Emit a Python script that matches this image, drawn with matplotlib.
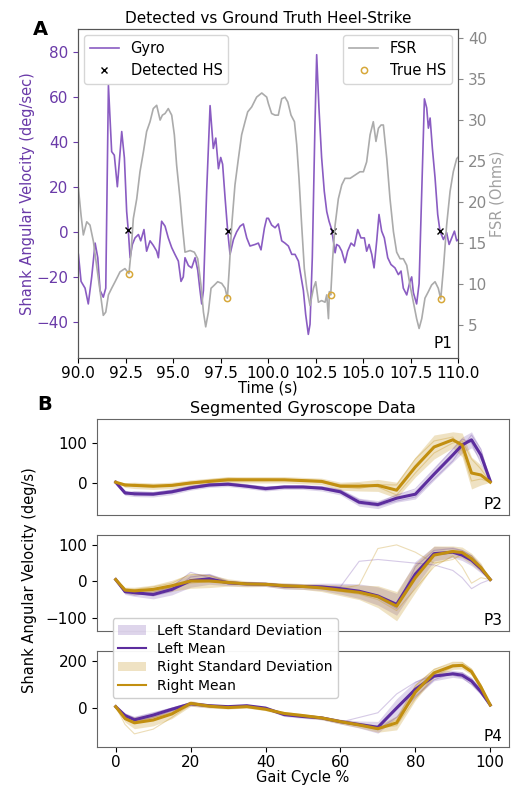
import matplotlib
matplotlib.use('Agg')
import matplotlib.pyplot as plt
from matplotlib.patches import Patch
from matplotlib.lines import Line2D

# ---------------- Panel A data ----------------
gyro_t = [90.02, 90.16, 90.37, 90.54, 90.72, 90.9, 91.04, 91.16, 91.33, 91.46, 91.6, 91.77, 91.91, 92.07,
          92.3, 92.44, 92.56, 92.65, 92.74, 92.86, 93.0, 93.18, 93.3, 93.47, 93.61, 93.79, 93.96, 94.14,
          94.23, 94.4, 94.58, 94.75, 94.93, 95.1, 95.28, 95.42, 95.54, 95.63, 95.81, 95.98, 96.16, 96.3,
          96.42, 96.51, 96.6, 96.77, 96.95, 97.12, 97.25, 97.39, 97.51, 97.61, 97.74, 97.88, 98.0, 98.18,
          98.35, 98.53, 98.7, 98.88, 99.05, 99.32, 99.49, 99.63, 99.81, 99.93, 100.02, 100.19, 100.37,
          100.54, 100.72, 100.89, 101.07, 101.25, 101.42, 101.6, 101.74, 101.86, 101.98, 102.12, 102.21,
          102.33, 102.47, 102.56, 102.68, 102.82, 102.96, 103.09, 103.21, 103.35, 103.44, 103.53, 103.61,
          103.74, 103.88, 104.05, 104.19, 104.37, 104.54, 104.72, 104.89, 105.07, 105.19, 105.32, 105.46,
          105.58, 105.72, 105.84, 105.98, 106.12, 106.3, 106.47, 106.68, 106.86, 107.0, 107.12, 107.3,
          107.47, 107.56, 107.65, 107.82, 107.95, 108.09, 108.23, 108.35, 108.44, 108.53, 108.65, 108.79,
          108.93, 109.05, 109.23, 109.4, 109.53, 109.67, 109.81, 109.93, 110.1]
gyro_v = [-10, -22, -25, -32, -20, -5, -11.5, -26, -29, -25, 65, 35.6, 34, 20,
          44.5, 32.8, 9, 0, -11.5, -5.6, -2.7, -1.2, -4, 1, -8.6, -4, -6, -8.6,
          -11.5, 4.7, 2.5, -2.7, -7, -10, -13, -22, -20, -11.5, -15, -16, -11.5, -17,
          -26, -32, -26, 18, 56, 37, 41.6, 28, 33, 30, 15, 0, -10, -3.4,
          0, 2.5, 3.5, -2.7, -6.3, -5.6, -5, -8, 1.7, 6, 6, 3, 1.8,
          3.5, -4, -5, -6.3, -10, -10, -13, -20, -26, -36.6, -45.5, -41,
          -11.5, 47.5, 78.6, 55, 33, 18, 9, 4.7, 1, -4, -9.3, -5.6,
          -6.3, -8.6, -13.7, -8.6, -5, -6.3, 1, -2.7, -2.7, -8.6, -5.6, -10,
          -16, -4, 7.7, 0.3, -2.7, -11.5, -14.5, -16, -19, -17.4, -25, -28,
          -22, -20, -27, -32, -23, 18, 59, 55, 46, 50.5, 37, 24,
          7.7, 0.3, -3.4, -0.4, -5.6, -2.7, 0.3, -4, -2.7]

fsr_t = [90.02, 90.16, 90.28, 90.46, 90.63, 90.81, 90.93, 91.07, 91.21, 91.33, 91.46, 91.6, 91.77, 91.95,
         92.21, 92.47, 92.68, 92.79, 92.91, 93.09, 93.26, 93.44, 93.61, 93.79, 93.96, 94.14, 94.32, 94.44,
         94.58, 94.75, 94.93, 95.07, 95.19, 95.37, 95.49, 95.63, 95.9, 96.12, 96.3, 96.47, 96.6, 96.72,
         96.86, 97.0, 97.18, 97.35, 97.56, 97.74, 97.86, 97.96, 98.09, 98.26, 98.44, 98.61, 98.79, 98.93,
         99.14, 99.4, 99.67, 99.93, 100.02, 100.19, 100.37, 100.54, 100.72, 100.89, 101.04, 101.21, 101.39,
         101.51, 101.63, 101.77, 101.91, 102.04, 102.21, 102.39, 102.51, 102.65, 102.82, 103.0, 103.09,
         103.18, 103.23, 103.3, 103.4, 103.53, 103.7, 103.88, 104.05, 104.32, 104.58, 104.84, 105.02,
         105.19, 105.37, 105.54, 105.68, 105.81, 105.95, 106.07, 106.25, 106.42, 106.6, 106.77, 106.95,
         107.12, 107.3, 107.47, 107.65, 107.82, 107.95, 108.09, 108.26, 108.44, 108.61, 108.79, 108.96,
         109.09, 109.23, 109.4, 109.58, 109.75, 109.93, 110.1]
fsr_v = [21.7, 18.4, 16, 17.6, 17.2, 15.2, 13.1, 10.7, 8.3, 6.2, 6.6, 8.7, 9.5, 10.3,
         11.5, 11.9, 11.3, 13.9, 18, 20.4, 23.7, 26.1, 28.6, 29.8, 31.4, 31.8, 30, 30.6,
         30.8, 31.4, 30.6, 28.2, 24.5, 20.4, 17.2, 13.9, 14.1, 13.9, 13.1, 9.9, 6.6, 4.8,
         6.6, 9.5, 9.9, 10.3, 10.1, 9.5, 8.3, 11.9, 17.2, 22.1, 25.3, 28.2, 29.8, 31,
         31.6, 32.8, 33.3, 32.8, 32, 30.8, 30.6, 30.6, 32.6, 32.8, 32.2, 30.6, 29.8,
         27, 22.9, 17.2, 11.9, 9.5, 7.4, 9.5, 10.3, 7.8, 8, 7.8, 8.7,
         5.8, 9.1, 8.7, 13.1, 17.2, 20.4, 22.1, 22.9, 22.9, 23.3, 23.7, 23.7,
         24.9, 28.2, 29.8, 27.4, 29, 29.4, 29.4, 25.3, 20.4, 16.4, 13.9, 13.1,
         13.1, 12.3, 9.9, 7.8, 5.8, 4.6, 5.8, 8.3, 9.1, 9.9, 10.3, 9.5,
         8.2, 11.9, 17.2, 21.3, 23.7, 25.3, 25.7]

detected_t = [92.61, 97.88, 103.44, 109.05]
detected_v = [1, 0.5, 0.5, 0.5]
true_t = [92.68, 97.86, 103.3, 109.09]
true_v = [11.3, 8.3, 8.7, 8.2]

# ---------------- Panel B data ----------------
gait = [0, 2.5, 5, 10, 15, 20, 25, 30, 35, 40, 45, 50, 55, 60, 65, 70, 75, 80, 85, 90, 92.5, 95, 97.5, 100]

p2_left_mean = [2, -25, -27, -28, -22, -12, -5, -3, -8, -14, -10, -10, -13, -22, -48, -54, -38, -28, 22, 70, 95, 108, 70, 5]
p2_left_std = [0, 6, 7, 7, 7, 6, 6, 6, 6, 6, 6, 6, 7, 8, 10, 10, 10, 12, 15, 18, 20, 20, 15, 0]
p2_right_mean = [2, -5, -6, -8, -6, 0, 4, 8, 8, 8, 8, 6, 4, -8, -8, -6, -18, 40, 90, 108, 95, 25, 20, 2]
p2_right_std = [0, 6, 8, 8, 8, 8, 8, 8, 8, 8, 8, 8, 8, 10, 12, 15, 20, 25, 30, 20, 30, 40, 25, 0]
p2_left_strides = [[2, -20, -30, -30, -25, -15, -8, -5, -10, -18, -12, -12, -15, -25, -52, -58, -45, -35, 10, 55, 90, 120, 85, 5],
                   [2, -28, -22, -24, -18, -8, -2, 0, -5, -10, -8, -8, -10, -18, -42, -50, -30, -15, 35, 85, 110, 100, 50, 5]]
p2_right_strides = [[2, -2, -8, -10, -4, 2, 8, 12, 10, 10, 8, 6, 2, -10, -14, -4, -5, 60, 105, 115, 80, 5, 10, 2],
                    [2, -8, -3, -6, -8, -2, 2, 5, 6, 6, 8, 8, 6, -4, -2, -10, -30, 25, 75, 100, 105, 60, 35, 2]]

p3_left_mean = [5, -28, -31, -36, -22, 2, 7, -4, -7, -8, -13, -14, -15, -20, -27, -40, -63, 20, 76, 80, 72, 58, 35, 5]
p3_left_std = [0, 8, 10, 12, 15, 18, 15, 8, 6, 6, 8, 8, 10, 15, 20, 25, 30, 35, 20, 15, 15, 15, 12, 0]
p3_right_mean = [5, -24, -26, -22, -12, 1, 1, -3, -7, -8, -12, -14, -18, -24, -30, -42, -68, 10, 72, 82, 79, 62, 38, 5]
p3_right_std = [0, 8, 10, 12, 15, 20, 18, 10, 8, 6, 8, 8, 10, 15, 20, 30, 40, 40, 25, 15, 15, 15, 12, 0]
p3_left_strides = [[5, -25, -30, -40, -28, 12, 18, -2, -6, -8, -12, -13, -14, -15, 55, 60, 55, 50, 45, 30, 10, -20, -5, 5],
                   [5, -32, -38, -30, -15, 25, 10, -6, -8, -8, -14, -15, -16, -22, -30, -45, -75, 40, 85, 90, 85, 70, 40, 5]]
p3_right_strides = [[5, -20, -22, -15, -5, 20, 15, 0, -6, -8, -10, -14, -18, -20, -10, 90, 100, 80, 50, 60, 75, 70, 40, 5],
                    [5, -28, -30, -28, -18, -5, 0, -6, -8, -8, -12, -14, -20, -28, -35, -50, -80, -20, 40, 70, 40, -5, 10, 5]]

p4_left_mean = [6, -32, -50, -30, -5, 18, 10, 6, 10, 0, -28, -36, -42, -58, -70, -82, 0, 80, 136, 146, 140, 115, 70, 13]
p4_left_std = [0, 10, 12, 12, 10, 10, 8, 6, 6, 6, 8, 8, 8, 10, 15, 25, 40, 35, 20, 15, 15, 15, 12, 0]
p4_right_mean = [6, -45, -63, -51, -25, 20, 8, 2, 6, -5, -23, -32, -42, -58, -72, -88, -63, 68, 150, 180, 182, 155, 90, 13]
p4_right_std = [0, 15, 25, 25, 20, 12, 8, 6, 6, 6, 8, 8, 8, 10, 12, 15, 30, 35, 20, 15, 15, 15, 12, 0]
p4_left_strides = [[6, -25, -40, -20, 0, 22, 12, 6, 10, -5, -30, -38, -45, -60, -40, -20, 60, 110, 140, 140, 130, 100, 60, 13],
                   [6, -38, -60, -40, -12, 15, 8, 6, 8, 0, -25, -35, -40, -55, -72, -90, -40, 50, 120, 150, 150, 125, 80, 13]]
p4_right_strides = [[6, -70, -110, -90, -40, 15, 8, 2, 6, -5, -22, -30, -40, -55, -70, -85, -75, 40, 135, 175, 180, 160, 100, 13],
                    [6, -40, -55, -40, -20, 22, 10, 2, 6, -5, -25, -34, -44, -60, -75, -92, -50, 95, 165, 195, 195, 165, 95, 13]]

PURPLE = '#8a5cc2'
DARK_PURPLE = '#5c2d9e'
GOLD = '#c28f10'
GRAY = '#ababab'

plt.rcParams['font.family'] = ['DejaVu Sans']
plt.rcParams['font.size'] = 10.5

fig = plt.figure(figsize=(5.15, 7.86), dpi=100)

# ---------------- Panel A ----------------
ax = fig.add_axes([0.1515, 0.5445, 0.7379, 0.4186])
ax2 = ax.twinx()
ax.plot(gyro_t, gyro_v, color=PURPLE, lw=1.2, label='Gyro')
ax.plot(detected_t, detected_v, 'x', color='black', ms=4, mew=1, label='Detected HS')
ax2.plot(fsr_t, fsr_v, color=GRAY, lw=1.2, label='FSR')
ax2.plot(true_t, true_v, 'o', mfc='none', mec='#d7a83a', ms=4.5, mew=1.1, label='True HS')
ax.set_xlim(90, 110)
ax.set_ylim(-56, 90)
ax2.set_ylim(1, 41.1)
ax.set_xticks([90, 92.5, 95, 97.5, 100, 102.5, 105, 107.5, 110])
ax.set_yticks([-40, -20, 0, 20, 40, 60, 80])
ax2.set_yticks([5, 10, 15, 20, 25, 30, 35, 40])
ax.tick_params(axis='y', colors='#6a3aa8', labelsize=11)
ax2.tick_params(axis='y', colors='#888888', labelsize=11)
ax.tick_params(axis='x', labelsize=11, pad=2)
ax.set_ylabel('Shank Angular Velocity (deg/sec)', color='#6a3aa8', labelpad=1)
ax2.set_ylabel('FSR (Ohms)', color='#a0a0a0', labelpad=2)
ax.set_xlabel('Time (s)', labelpad=0)
ax.set_title('Detected vs Ground Truth Heel-Strike', fontsize=11, pad=4)
ax.legend(loc='upper left', fontsize=10.5, handlelength=2, borderaxespad=0.4)
ax2.legend(loc='upper right', fontsize=10.5, handlelength=2, borderaxespad=0.4)
ax.text(0.985, 0.02, 'P1', transform=ax.transAxes, ha='right', va='bottom', fontsize=11)
for sp in list(ax.spines.values()) + list(ax2.spines.values()):
    sp.set_color('#555555')

fig.text(0.078, 0.962, 'A', fontsize=14, fontweight='bold', ha='center', va='center')

# ---------------- Panel B ----------------
panels = [
    ('P2', 0.3448, (-80, 160), [0, 100], p2_left_mean, p2_left_std, p2_right_mean, p2_right_std, p2_left_strides, p2_right_strides),
    ('P3', 0.1972, (-136, 127), [-100, 0, 100], p3_left_mean, p3_left_std, p3_right_mean, p3_right_std, p3_left_strides, p3_right_strides),
    ('P4', 0.0496, (-166, 243), [0, 200], p4_left_mean, p4_left_std, p4_right_mean, p4_right_std, p4_left_strides, p4_right_strides),
]
axes_b = []
for name, bottom, ylim, yticks, lm, ls, rm, rs, lstr, rstr in panels:
    bx = fig.add_axes([0.1883, bottom, 0.8, 0.1221])
    lo = [m - s for m, s in zip(lm, ls)]
    hi = [m + s for m, s in zip(lm, ls)]
    bx.fill_between(gait, lo, hi, color=DARK_PURPLE, alpha=0.2, lw=0)
    lo = [m - s for m, s in zip(rm, rs)]
    hi = [m + s for m, s in zip(rm, rs)]
    bx.fill_between(gait, lo, hi, color=GOLD, alpha=0.25, lw=0)
    for tr in lstr:
        bx.plot(gait, tr, color=DARK_PURPLE, lw=0.8, alpha=0.25)
    for tr in rstr:
        bx.plot(gait, tr, color=GOLD, lw=0.8, alpha=0.3)
    bx.plot(gait, lm, color=DARK_PURPLE, lw=2.2)
    bx.plot(gait, rm, color=GOLD, lw=2.2)
    bx.set_xlim(-5, 105)
    bx.set_ylim(*ylim)
    bx.set_yticks(yticks)
    bx.set_xticks([0, 20, 40, 60, 80, 100])
    if name != 'P4':
        bx.tick_params(axis='x', bottom=False, labelbottom=False)
    bx.tick_params(labelsize=11)
    bx.tick_params(axis='x', pad=2)
    bx.text(0.985, 0.03, name, transform=bx.transAxes, ha='right', va='bottom', fontsize=11)
    for sp in bx.spines.values():
        sp.set_color('#666666')
    axes_b.append(bx)

axes_b[0].set_title('Segmented Gyroscope Data', fontsize=11.5, pad=4)
axes_b[2].set_xlabel('Gait Cycle %', fontsize=10.5, labelpad=0)
fig.text(0.058, 0.262, 'Shank Angular Velocity (deg/s)', rotation=90, ha='center', va='center', fontsize=10.5)
fig.text(0.087, 0.485, 'B', fontsize=14, fontweight='bold', ha='center', va='center')

handles = [Patch(facecolor=DARK_PURPLE, alpha=0.2, edgecolor='none'),
           Line2D([], [], color=DARK_PURPLE, lw=1.5),
           Patch(facecolor=GOLD, alpha=0.25, edgecolor='none'),
           Line2D([], [], color=GOLD, lw=1.5)]
labels = ['Left Standard Deviation', 'Left Mean', 'Right Standard Deviation', 'Right Mean']
fig.legend(handles, labels, loc='upper left', bbox_to_anchor=(0.205, 0.222), fontsize=10,
           handlelength=2, labelspacing=0.3, borderpad=0.4, framealpha=0.95)

fig.savefig('out.png', dpi=100)
